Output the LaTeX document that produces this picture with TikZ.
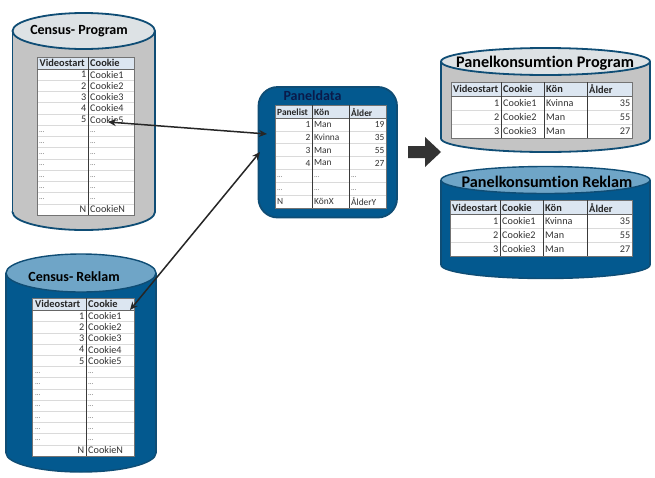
\documentclass[tikz,border=0pt]{standalone}
\usepackage{fontspec}
\setmainfont{Carlito}[Ligatures=NoCommon]
\usetikzlibrary{arrows.meta}
\definecolor{cylborder}{HTML}{0F4D75}
\definecolor{graybody}{HTML}{C4C4C4}
\definecolor{graytop}{HTML}{DDE2E5}
\definecolor{bluebody}{HTML}{03598F}
\definecolor{bluetop}{HTML}{6FA5C7}
\definecolor{headfill}{HTML}{DCE6F1}
\definecolor{rowline}{HTML}{DADADA}
\definecolor{colline}{HTML}{3A3A3A}
\definecolor{navy}{HTML}{0A1A4A}
\tikzset{
  x=1pt,y=-1pt,
  title/.style={font=\bfseries\fontsize{14}{15}\selectfont,inner sep=0pt,text=black},
  bigtitle/.style={font=\bfseries\fontsize{16.2}{17}\selectfont,inner sep=0pt,text=black},
  head/.style={font=\bfseries\fontsize{10.4}{11}\selectfont,inner sep=0pt,anchor=west,text=black!85},
  cellL/.style={font=\fontsize{10.2}{11}\selectfont,inner sep=0pt,anchor=west,text=black!80},
  cellR/.style={font=\fontsize{10.2}{11}\selectfont,inner sep=0pt,anchor=east,text=black!80},
  phead/.style={font=\bfseries\fontsize{9.4}{11}\selectfont,inner sep=0pt,anchor=west,text=black!85},
  pcellL/.style={font=\fontsize{9.4}{11}\selectfont,inner sep=0pt,anchor=west,text=black!80},
  pcellR/.style={font=\fontsize{9.4}{11}\selectfont,inner sep=0pt,anchor=east,text=black!80},
  dots/.style={font=\fontsize{7}{7}\selectfont,inner sep=0pt,anchor=west,text=black!65},
  link/.style={draw=black!85,line width=1.5pt,{Stealth[length=8pt,width=7pt]}-{Stealth[length=8pt,width=7pt]}},
  rowrule/.style={draw=rowline,line width=.5pt},
  colrule/.style={draw=colline,line width=.7pt},
}
% #1 x0, #2 x1, #3 top centre y, #4 bottom centre y, #5 ry, #6 body, #7 top, #8 border, #9 border width
\newcommand\dbcyl[9]{%
  \pgfmathsetmacro\cx{(#1+#2)/2}\pgfmathsetmacro\rx{(#2-#1)/2}%
  \draw[draw=#8,fill=#6,line width=#9] (\cx,#4) ellipse [x radius=\rx pt,y radius=#5 pt];
  \fill[#6] (#1,#3) rectangle (#2,#4);
  \draw[draw=#8,line width=#9] (#1,#3) -- (#1,#4) (#2,#3) -- (#2,#4);
  \draw[draw=#8,fill=#7,line width=#9] (\cx,#3) ellipse [x radius=\rx pt,y radius=#5 pt];
}
% #1 x0, #2 x1, #3 y0, #4 header bottom, #5 y1, #6 row count, #7 column xs
\newcommand\gridtab[7]{%
  \fill[white] (#1,#3) rectangle (#2,#5);
  \fill[headfill] (#1,#3) rectangle (#2,#4);
  \pgfmathsetmacro\rowh{(#5-#4)/#6}%
  \foreach \i in {1,...,#6}{\draw[rowrule] (#1,{#4+\i*\rowh}) -- (#2,{#4+\i*\rowh});}
  \draw[draw=black!55,line width=.5pt] (#1,#3) rectangle (#2,#5);
  \draw[draw=black!60,line width=.6pt] (#1,#4) -- (#2,#4);
  \foreach \c in {#7}{\draw[colrule] (\c,#3) -- (\c,#5);}
}
\begin{document}
\begin{tikzpicture}
\useasboundingbox (0,0) rectangle (655,477);
\fill[white] (0,0) rectangle (655,477);

% Census- Program
\dbcyl{12.5}{155}{31}{212}{18}{graybody}{graytop}{cylborder}{1.8pt}
\node[title] (censusprogram) at (79,31) {Census- Program};
\gridtab{37}{134}{57}{69}{215}{13}{88}
\node[head] (cph1) at (39.5,63) {Videostart};
\node[head] (cph2) at (90,63) {Cookie};
\foreach \i in {1,...,5}{
  \node[cellR] (cpa\i) at (86.5,{69+(\i-.5)*11.23}) {\i};
  \node[cellL] (cpb\i) at (90,{69+(\i-.5)*11.23}) {Cookie\i};
}
\foreach \i in {6,...,12}{
  \node[dots] (cpa\i) at (39,{70+(\i-.5)*11.23}) {...};
  \node[dots] (cpb\i) at (90,{70+(\i-.5)*11.23}) {...};
}
\node[cellR] (cpa13) at (86.5,209.4) {N};
\node[cellL] (cpb13) at (90,209.4) {CookieN};

% Census- Reklam
\dbcyl{6}{156}{273}{453}{19}{bluebody}{bluetop}{cylborder}{1.4pt}
\node[title] (censusreklam) at (74,277) {Census- Reklam};
\gridtab{32}{134}{298}{310.5}{456}{13}{86}
\node[head] (crh1) at (35,304.3) {Videostart};
\node[head] (crh2) at (88,304.3) {Cookie};
\foreach \i in {1,...,5}{
  \node[cellR] (cra\i) at (84.5,{310.5+(\i-.5)*11.19}) {\i};
  \node[cellL] (crb\i) at (88,{310.5+(\i-.5)*11.19}) {Cookie\i};
}
\foreach \i in {6,...,12}{
  \node[dots] (cra\i) at (35,{311.5+(\i-.5)*11.19}) {...};
  \node[dots] (crb\i) at (88,{311.5+(\i-.5)*11.19}) {...};
}
\node[cellR] (cra13) at (84.5,450.4) {N};
\node[cellL] (crb13) at (88,450.4) {CookieN};

% Paneldata
\draw[draw=cylborder,fill=bluebody,line width=1.8pt,rounded corners=19pt] (258.5,87) rectangle (397,217.5);
\node[title,text=navy] (paneldata) at (312.5,96) {Paneldata};
\gridtab{275}{386}{105}{118}{208}{7}{312,349}
\node[phead] (pdh1) at (277,112) {Panelist};
\node[phead] (pdh2) at (314,112) {Kön};
\node[phead] (pdh3) at (351,112) {Ålder};
\foreach \i/\k/\a in {1/Man/19,2/Kvinna/35,3/Man/55,4/Man/27}{
  \node[pcellR] (pda\i) at (310.5,{118+(\i-.5)*12.86}) {\i};
  \node[pcellL] (pdb\i) at (314,{118+(\i-.5)*12.86}) {\k};
  \node[pcellR] (pdc\i) at (384.5,{118+(\i-.5)*12.86}) {\a};
}
\foreach \i in {5,6}{
  \node[dots] (pda\i) at (277,{119+(\i-.5)*12.86}) {...};
  \node[dots] (pdb\i) at (314,{119+(\i-.5)*12.86}) {...};
  \node[dots] (pdc\i) at (351,{119+(\i-.5)*12.86}) {...};
}
\node[pcellL] (pda7) at (277,201.6) {N};
\node[pcellL] (pdb7) at (314,201.6) {KönX};
\node[pcellL] (pdc7) at (351,201.6) {ÅlderY};

% Block arrow
\fill[black!80] (408,146) -- (425,146) -- (425,137) -- (441,152) -- (425,167) -- (425,158) -- (408,158) -- cycle;

% Panelkonsumtion Program
\dbcyl{441}{650}{61.5}{138.5}{13.5}{graybody}{graytop}{cylborder}{1.8pt}
\node[bigtitle] (pkprogram) at (545,63) {Panelkonsumtion Program};
\gridtab{451}{632}{82}{96}{138}{3}{501,544,587}
\node[head] (pph1) at (453,89) {Videostart};
\node[head] (pph2) at (503,89) {Cookie};
\node[head] (pph3) at (546,89) {Kön};
\node[head] (pph4) at (589,89) {Ålder};
\foreach \i/\k/\a in {1/Kvinna/35,2/Man/55,3/Man/27}{
  \node[cellR] (ppa\i) at (499.5,{96+(\i-.5)*14}) {\i};
  \node[cellL] (ppb\i) at (503,{96+(\i-.5)*14}) {Cookie\i};
  \node[cellL] (ppc\i) at (546,{96+(\i-.5)*14}) {\k};
  \node[cellR] (ppd\i) at (630.5,{96+(\i-.5)*14}) {\a};
}

% Panelkonsumtion Reklam
\dbcyl{441}{650}{180}{265}{13.5}{bluebody}{bluetop}{cylborder}{1.4pt}
\node[bigtitle] (pkreklam) at (547,182) {Panelkonsumtion Reklam};
\gridtab{450}{632}{200}{214}{256}{3}{500,543,587}
\node[head] (prh1) at (452,208) {Videostart};
\node[head] (prh2) at (502,208) {Cookie};
\node[head] (prh3) at (545,208) {Kön};
\node[head] (prh4) at (589,208) {Ålder};
\foreach \i/\k/\a in {1/Kvinna/35,2/Man/55,3/Man/27}{
  \node[cellR] (pra\i) at (498.5,{214+(\i-.5)*14}) {\i};
  \node[cellL] (prb\i) at (502,{214+(\i-.5)*14}) {Cookie\i};
  \node[cellL] (prc\i) at (545,{214+(\i-.5)*14}) {\k};
  \node[cellR] (prd\i) at (630.5,{214+(\i-.5)*14}) {\a};
}

% Connectors
\coordinate (progend) at (108,122);
\coordinate (panelin) at (267,134);
\coordinate (reklend) at (130,310);
\coordinate (panelin2) at (260,152);
\draw[link] (progend) -- (panelin);
\draw[link] (reklend) -- (panelin2);
\end{tikzpicture}
\end{document}
